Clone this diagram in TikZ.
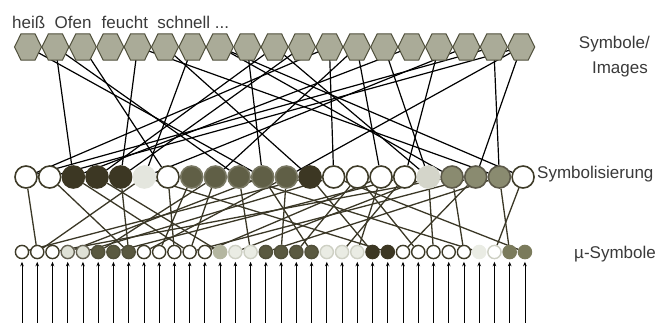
\documentclass[tikz,border=0pt]{standalone}
\usepackage{fontspec}
\setmainfont{Liberation Sans}
\usetikzlibrary{arrows.meta,backgrounds}
\definecolor{hexfill}{RGB}{170,171,152}
\definecolor{hexline}{RGB}{80,80,60}
\definecolor{ring}{RGB}{62,59,40}
\definecolor{cdark}{RGB}{60,55,35}
\definecolor{cmed}{RGB}{96,95,70}
\definecolor{colive}{RGB}{138,139,112}
\definecolor{clight}{RGB}{228,230,222}
\definecolor{clightb}{RGB}{212,213,202}
\definecolor{bdark}{RGB}{90,89,64}
\definecolor{bpale}{RGB}{223,225,214}
\definecolor{bsage}{RGB}{180,182,160}
\definecolor{bvl}{RGB}{234,236,228}
\definecolor{bvlb}{RGB}{206,208,196}
\definecolor{bolive}{RGB}{123,123,92}
\definecolor{lowcol}{RGB}{58,55,38}
\definecolor{txt}{RGB}{58,58,58}
\tikzset{
  hexa/.pic={\draw[fill=hexfill,draw=hexline,line width=1pt]
     (-13.5,0)--(-7,13.2)--(7,13.2)--(13.5,0)--(7,-13.2)--(-7,-13.2)--cycle;},
  midc/.style={circle,minimum size=22pt,inner sep=0pt,line width=1.6pt,draw=ring,fill=white},
  botc/.style={circle,minimum size=13.2pt,inner sep=0pt,line width=1.4pt,draw=ring,fill=white},
  midW/.style={},
  midD/.style={fill=cdark,draw=cdark},
  midM/.style={fill=cmed,draw=cmed!85!white},
  midL/.style={fill=clight,draw=clight},
  midLB/.style={fill=clightb,draw=clightb},
  midO/.style={fill=colive,draw=ring!85!white},
  botW/.style={},
  botP/.style={fill=bpale,draw=ring!80!white},
  botD/.style={fill=bdark,draw=bdark!90!black},
  botS/.style={fill=bsage,draw=bsage},
  botV/.style={fill=bvl,draw=bvlb},
  botK/.style={fill=cdark,draw=cdark},
  botN/.style={fill=bvl,draw=bvl},
  botWL/.style={draw=bvlb},
  botO/.style={fill=bolive,draw=bolive},
  upline/.style={black,line width=1.2pt},
  lowline/.style={lowcol,line width=1.3pt},
  arr/.style={black,line width=0.8pt,-{Stealth[length=4.5pt,width=3.6pt]}},
  lbl/.style={text=txt,inner sep=0pt,font=\fontsize{17}{20}\selectfont}
}
\begin{document}
\begin{tikzpicture}[x=1pt,y=-1pt]
\useasboundingbox (0,0) rectangle (655,322);
% hexagons
\foreach \i in {1,...,19}{
  \coordinate (h\i) at ({28+27.4*(\i-1)},47);
}
% middle row
\foreach \c [count=\j] in {midW,midW,midD,midD,midD,midL,midW,midM,midM,midM,midM,midM,midD,midW,midW,midW,midW,midLB,midO,midO,midO,midW}{
  \node[midc,\c] (m\j) at ({26+23.67*(\j-1)},177) {};
}
% bottom row
\foreach \c [count=\k] in {botW,botW,botW,botP,botP,botD,botD,botD,botW,botW,botW,botW,botW,botS,botV,botV,botD,botD,botD,botD,botV,botV,botV,botK,botK,botW,botW,botW,botW,botW,botN,botWL,botO,botO}{
  \node[botc,\c] (b\k) at ({22+15.24*(\k-1)},252) {};
  \coordinate (a\k) at ({22+15.24*(\k-1)},323);
  \draw[arr,shorten >=2.5pt] (a\k) -- (b\k.south);
}
\begin{pgfonlayer}{background}
\foreach \a/\b in {1/11,2/3,2/10,3/7,5/5,5/21,6/13,7/6,8/19,8/22,9/11,10/4,10/18,
   11/5,12/1,12/14,13/16,13/9,14/18,15/3,16/17,17/6,18/1,18/21,19/20,19/12,19/2}{
  \draw[upline] (h\a) -- (m\b);
}
\foreach \a/\b in {1/2,2/8,3/12,4/14,5/8,6/2,7/11,8/10,9/12,10/16,11/20,11/4,
   12/18,12/9,13/24,13/1,14/5,15/27,16/23,16/13,17/22,18/28,18/15,19/30,19/3,
   20/12,20/26,21/17,21/33,22/32,10/31,14/34,9/6,17/7,15/19,6/25}{
  \draw[lowline] (m\a) -- (b\b);
}
\end{pgfonlayer}
\foreach \i in {1,...,19}{ \pic at (h\i) {hexa}; }
% labels
\node[lbl,anchor=base west] (t1) at (12,28) {heiß\hspace{0.55em}Ofen\hspace{0.6em}feucht\hspace{0.55em}schnell ...};
\node[lbl,anchor=base east] (t2) at (650,48) {Symbole/};
\node[lbl,anchor=base east] (t3) at (648,73) {Images};
\node[lbl,anchor=base west] (t4) at (537,178) {Symbolisierung};
\node[lbl,anchor=base west] (t5) at (574,258) {µ-Symbole};
\end{tikzpicture}
\end{document}
